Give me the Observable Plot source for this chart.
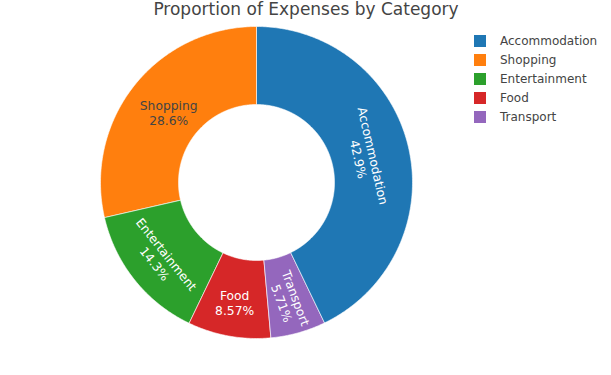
<!DOCTYPE html>
<html>
<head>
<meta charset="utf-8">
<script src="https://cdn.jsdelivr.net/npm/d3@7"></script>
<script src="https://cdn.jsdelivr.net/npm/@observablehq/plot@0.6"></script>
<style>
  html, body { margin: 0; padding: 0; background: #fff; }
  #wrap { position: relative; width: 611px; height: 375px; font-family: "DejaVu Sans", Verdana, sans-serif; }
  #title { position: absolute; left: 0; width: 611px; top: -1px; font-size: 17px; color: #444; }
  #title span { position: absolute; left: 306px; transform: translateX(-50%); white-space: nowrap; }
  #legend { position: absolute; left: 474px; top: 31px; font-size: 12px; color: #444; }
  .item { display: flex; align-items: center; height: 19px; }
  .sw { width: 12px; height: 12px; margin-right: 14px; }
  svg { position: absolute; left: 0; top: 0; }
</style>
</head>
<body>
<div id="wrap">
  <div id="chart"></div>
  <div id="title"><span>Proportion of Expenses by Category</span></div>
  <div id="legend"></div>
</div>
<script>
// Data
const categories = ["Accommodation", "Shopping", "Entertainment", "Food", "Transport"];
const values = [1500, 1000, 500, 300, 200];
const colors = ["#1f77b4", "#ff7f0e", "#2ca02c", "#d62728", "#9467bd"];
// clockwise order of slices starting at 12 o'clock
const clockwiseOrder = ["Accommodation", "Transport", "Food", "Entertainment", "Shopping"];

// label orientation (style, as plotly chose it)
const orientation = {Accommodation: "tangential", Shopping: "horizontal", Entertainment: "tangential", Food: "horizontal", Transport: "radial"};
const textColor = {Shopping: "#444"};

const total = d3.sum(values);
const valueOf = Object.fromEntries(categories.map((c, i) => [c, values[i]]));
const hole = 0.5;

let acc = 0;
const slices = clockwiseOrder.map(c => {
  const share = valueOf[c] / total;
  const a0 = acc * 2 * Math.PI;
  acc += share;
  const a1 = acc * 2 * Math.PI;
  return {category: c, share, a0, a1};
});

// polygon vertices for each slice
const pts = [];
for (const s of slices) {
  const n = Math.max(8, Math.ceil((s.a1 - s.a0) / 0.01));
  for (let i = 0; i <= n; i++) {
    const a = s.a0 + (s.a1 - s.a0) * i / n;
    pts.push({category: s.category, x: Math.sin(a), y: Math.cos(a)});
  }
  for (let i = n; i >= 0; i--) {
    const a = s.a0 + (s.a1 - s.a0) * i / n;
    pts.push({category: s.category, x: hole * Math.sin(a), y: hole * Math.cos(a)});
  }
}

const fmt = p => {
  const v = p * 100;
  return (v >= 10 ? v.toFixed(1) : v.toFixed(2)) + "%";
};

const labels = slices.map(s => {
  const mid = (s.a0 + s.a1) / 2;
  const deg = mid * 180 / Math.PI;
  const r = s.share > 0.25 ? 0.72 : 0.785;
  let rot = 0;
  const o = orientation[s.category];
  if (o === "tangential") rot = deg > 180 ? deg - 180 : deg;
  else if (o === "radial") rot = deg - 95;
  return {
    category: s.category,
    text: s.category + "\n" + fmt(s.share),
    x: r * Math.sin(mid), y: r * Math.cos(mid),
    rotate: rot,
    color: textColor[s.category] || "#fff"
  };
});

const chart = Plot.plot({
  width: 611,
  height: 375,
  margin: 0,
  x: {domain: [-1, 1], range: [100, 412], axis: null},
  y: {domain: [-1, 1], range: [338, 26], axis: null},
  color: {domain: categories, range: colors},
  style: {fontFamily: '"DejaVu Sans", Verdana, sans-serif', background: "transparent"},
  marks: [
    Plot.line(pts, {x: "x", y: "y", z: "category", fill: "category", stroke: "#fff", strokeWidth: 0.6, curve: "linear-closed"}),
    Plot.text(labels, {x: "x", y: "y", text: "text", rotate: "rotate", fill: d => d.color, fontSize: 12.3, lineHeight: 1.22})
  ]
});
document.getElementById("chart").appendChild(chart);

const legend = document.getElementById("legend");
categories.forEach((c, i) => {
  const it = document.createElement("div");
  it.className = "item";
  it.innerHTML = `<div class="sw" style="background:${colors[i]}"></div><div>${c}</div>`;
  legend.appendChild(it);
});
</script>
</body>
</html>
